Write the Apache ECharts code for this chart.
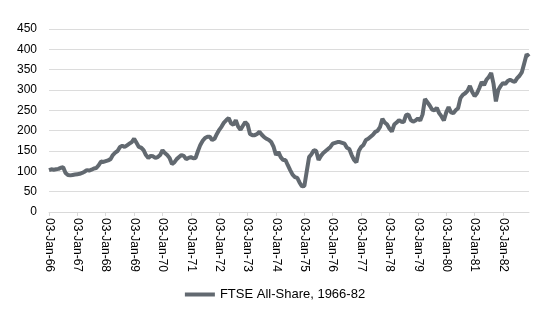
<!DOCTYPE html>
<html>
<head>
<meta charset="utf-8">
<script src="https://cdn.jsdelivr.net/npm/echarts@6/dist/echarts.min.js"></script>
<style>
html,body{margin:0;padding:0;background:#fff;}
#chart{width:550px;height:330px;}
</style>
</head>
<body>
<div id="chart"></div>
<script>
// Year tick labels (one per January)
var yearLabels = ["03-Jan-66","03-Jan-67","03-Jan-68","03-Jan-69","03-Jan-70","03-Jan-71","03-Jan-72","03-Jan-73","03-Jan-74","03-Jan-75","03-Jan-76","03-Jan-77","03-Jan-78","03-Jan-79","03-Jan-80","03-Jan-81","03-Jan-82"];
var monthNames = ["Jan","Feb","Mar","Apr","May","Jun","Jul","Aug","Sep","Oct","Nov","Dec"];
var seriesName = "FTSE All-Share, 1966-82";
var yTicks = [0,50,100,150,200,250,300,350,400,450];

// Monthly values, Jan 1966 - Dec 1982
var v1966 = [103,105,104,105,106,109,110,96,91,90,91,92];
var v1967 = [93,94,96,99,103,102,104,107,108,115,124,123];
var v1968 = [125,127,130,140,146,150,160,163,160,164,168,172];
var v1969 = [180,170,160,158,152,140,133,138,137,133,135,140];
var v1970 = [152,145,140,133,118,122,130,135,140,138,130,133];
var v1971 = [135,132,133,150,165,175,182,185,185,177,180,192];
var v1972 = [202,210,220,226,231,218,214,226,210,202,212,221];
var v1973 = [215,192,189,189,192,197,190,184,180,177,172,160];
var v1974 = [140,148,135,128,128,115,103,92,86,84,72,63];
var v1975 = [64,100,135,142,152,150,128,138,145,150,155,160];
var v1976 = [168,170,172,172,170,168,158,155,140,128,122,150];
var v1977 = [160,165,177,180,185,190,197,200,209,229,220,215];
var v1978 = [205,198,215,220,226,222,221,238,240,226,222,225];
var v1979 = [230,225,240,278,270,262,252,250,256,243,235,225];
var v1980 = [245,258,245,243,250,255,280,288,292,298,310,295];
var v1981 = [285,292,305,320,312,325,332,342,315,272,300,310];
var v1982 = [317,315,322,325,322,320,329,335,344,366,388,382];

var yearly = [v1966,v1967,v1968,v1969,v1970,v1971,v1972,v1973,v1974,v1975,v1976,v1977,v1978,v1979,v1980,v1981,v1982];
var categories = [];
var values = [];
for (var y = 0; y < yearly.length; y++) {
  for (var m = 0; m < 12; m++) {
    categories.push(m === 0 ? yearLabels[y] : monthNames[m] + "-" + yearLabels[y].slice(-2));
    values.push(yearly[y][m]);
  }
}

var chart = echarts.init(document.getElementById('chart'), null, {renderer:'canvas'});
chart.setOption({
  animation: false,
  backgroundColor: '#ffffff',
  textStyle: {fontFamily: 'Liberation Sans, Arial, sans-serif'},
  grid: {left: 49, right: 21, top: 29, bottom: 118},
  xAxis: {
    type: 'category',
    data: categories,
    boundaryGap: false,
    axisLine: {lineStyle: {color: '#d9d9d9', width: 1}},
    axisTick: {show: true, interval: 11, length: 4, lineStyle: {color: '#d9d9d9'}},
    axisLabel: {interval: 11, rotate: -90, margin: 6, fontSize: 12, color: '#000', fontFamily: 'Liberation Sans, Arial, sans-serif'},
    splitLine: {show: false}
  },
  yAxis: {
    type: 'value',
    min: yTicks[0],
    max: yTicks[yTicks.length-1],
    interval: 50,
    axisLine: {show: false},
    axisTick: {show: false},
    axisLabel: {fontSize: 12, color: '#000', margin: 12, fontFamily: 'Liberation Sans, Arial, sans-serif'},
    splitLine: {lineStyle: {color: '#dcdcdc', width: 1}}
  },
  legend: {
    bottom: 24,
    left: 'center',
    itemWidth: 30,
    itemHeight: 10,
    itemGap: 10,
    textStyle: {fontSize: 13, color: '#000', fontFamily: 'Liberation Sans, Arial, sans-serif'},
    data: [{name: seriesName, icon: 'path://M0,0 L30,0 L30,4 L0,4 Z'}]
  },
  series: [{
    name: seriesName,
    type: 'line',
    data: values,
    symbol: 'none',
    lineStyle: {color: '#626970', width: 4},
    itemStyle: {color: '#626970'}
  }]
});
</script>
</body>
</html>
